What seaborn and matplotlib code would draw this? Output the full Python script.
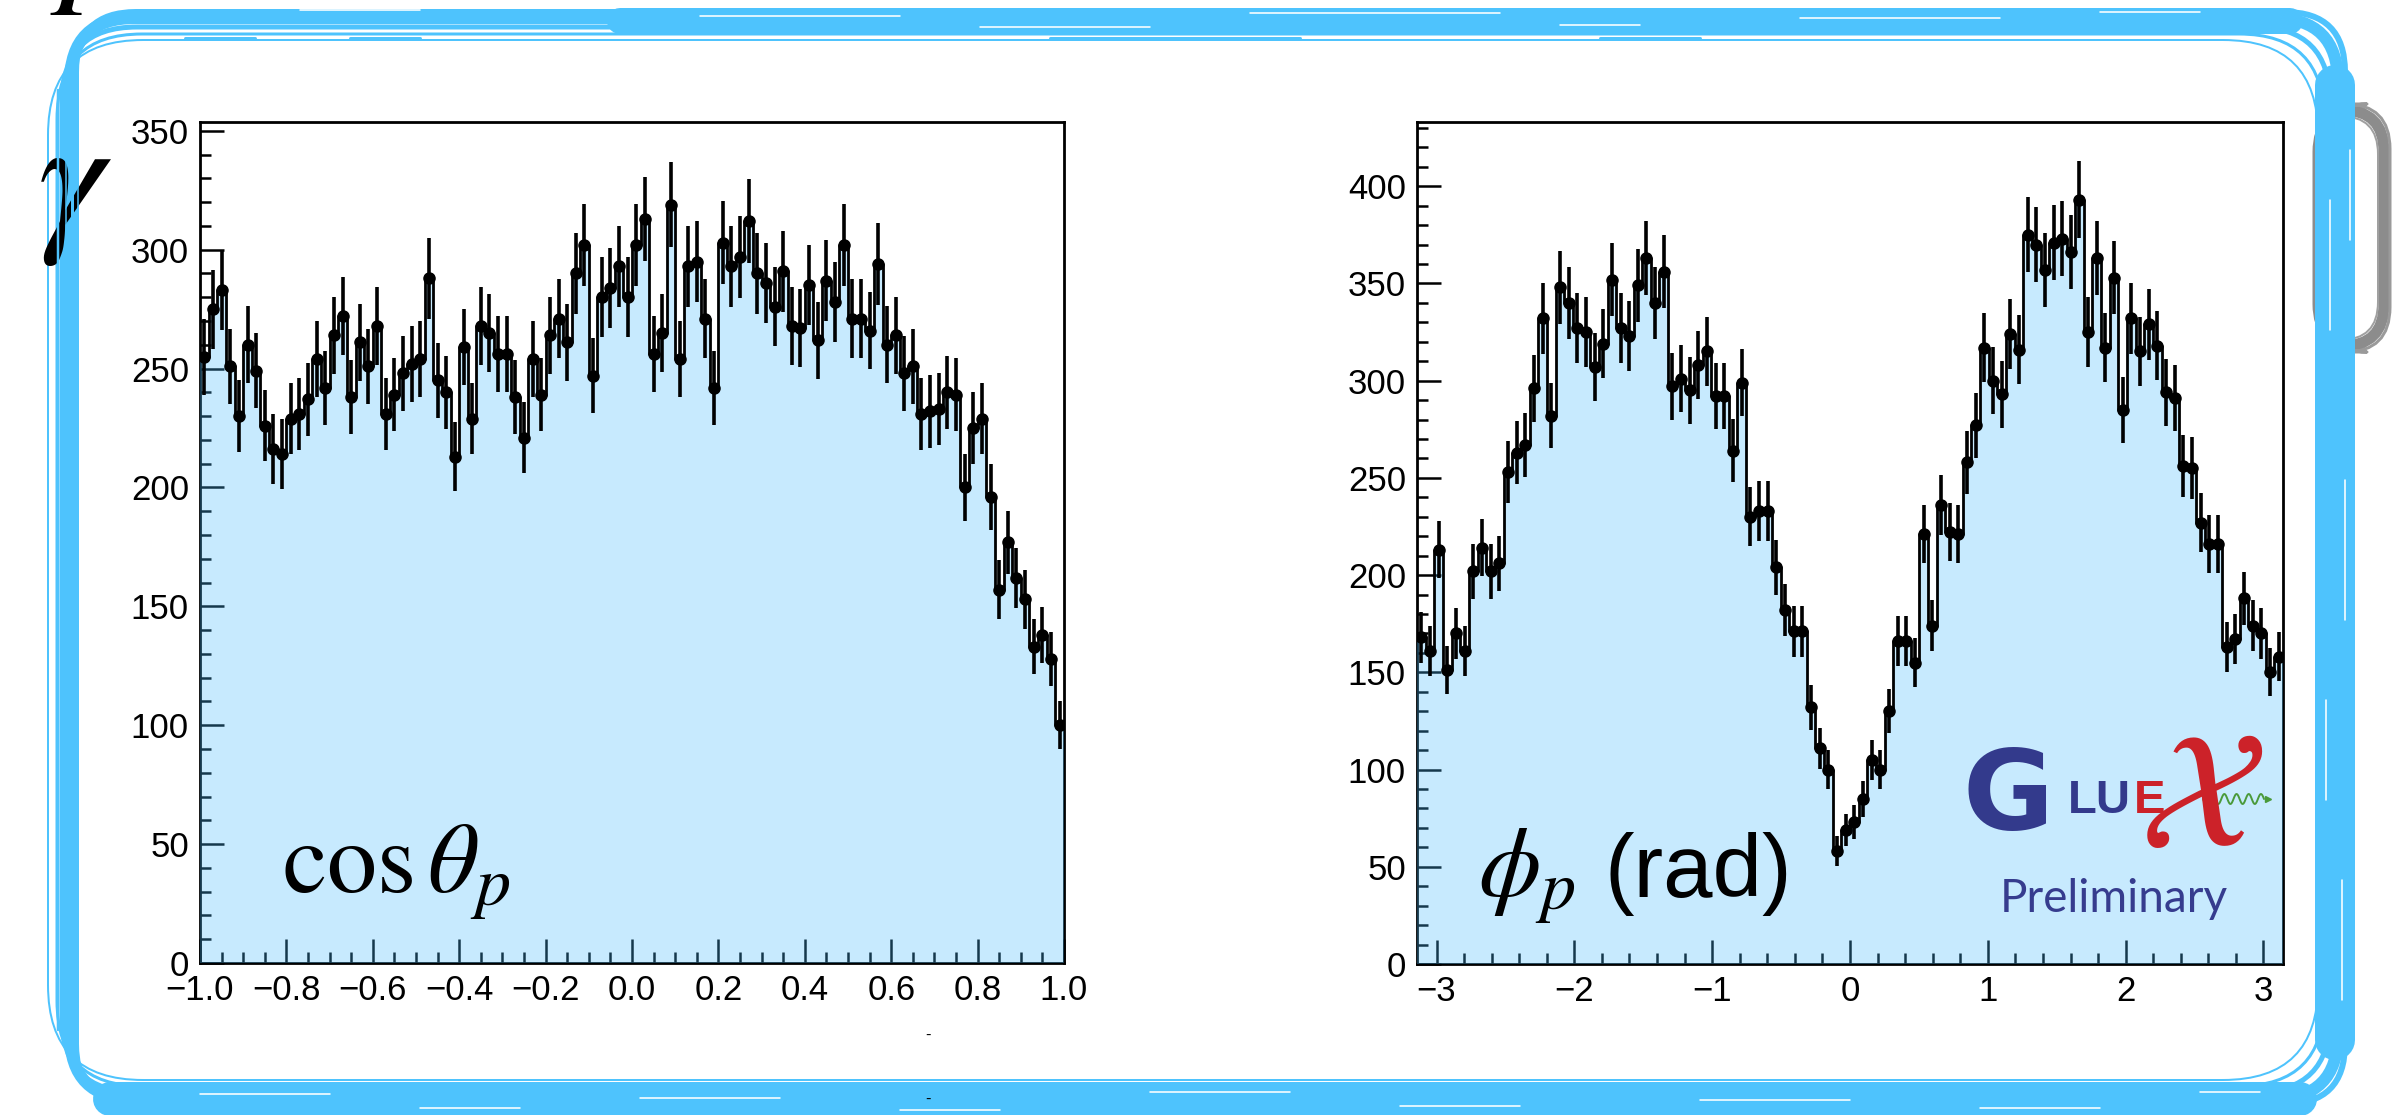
import numpy as np
import pandas as pd
import matplotlib
matplotlib.use("Agg")
import matplotlib.pyplot as plt
import seaborn as sns
from matplotlib.ticker import MultipleLocator, FuncFormatter
from matplotlib.patches import FancyBboxPatch

# ---- binned yields (100 bins each) ----
cos_edges = np.linspace(-1.0, 1.0, 101)
cos_counts = [255, 275, 283, 251, 230, 260, 249, 226, 216, 214,
              229, 231, 237, 254, 242, 264, 272, 238, 261, 251,
              268, 231, 239, 248, 252, 254, 288, 245, 240, 213,
              259, 229, 268, 265, 256, 256, 238, 221, 254, 239,
              264, 271, 261, 290, 302, 247, 280, 284, 293, 280,
              302, 313, 256, 265, 319, 254, 293, 295, 271, 242,
              303, 293, 297, 312, 290, 286, 276, 291, 268, 267,
              285, 262, 287, 278, 302, 271, 271, 266, 294, 260,
              264, 248, 251, 231, 232, 233, 240, 239, 200, 225,
              229, 196, 157, 177, 162, 153, 133, 138, 128, 100]

phi_edges = np.linspace(-np.pi, np.pi, 101)
phi_counts = [168, 161, 213, 151, 170, 161, 202, 214, 202, 206,
              253, 263, 267, 296, 332, 282, 348, 340, 327, 325,
              307, 319, 352, 327, 323, 349, 363, 340, 356, 297,
              301, 295, 308, 315, 292, 292, 264, 299, 230, 233,
              233, 204, 182, 171, 171, 132, 111, 100, 58, 69,
              73, 85, 105, 100, 130, 166, 166, 155, 221, 174,
              236, 222, 221, 258, 277, 317, 300, 293, 324, 316,
              375, 370, 357, 371, 373, 366, 393, 325, 363, 317,
              353, 285, 332, 315, 329, 318, 294, 291, 256, 255,
              227, 216, 216, 163, 167, 188, 174, 170, 150, 158]

cos_ticks = [-1.0, -0.8, -0.6, -0.4, -0.2, 0.0, 0.2, 0.4, 0.6, 0.8, 1.0]
phi_ticks = [-3, -2, -1, 0, 1, 2, 3]

W, H = 2394, 1115
FILL = (72 / 255, 188 / 255, 252 / 255)
FRAME_BLUE = "#4ec3fd"

sns.set_style("ticks")
plt.rcParams.update({
    "font.family": ["Liberation Sans", "DejaVu Sans"],
    "mathtext.fontset": "stix",
    "axes.linewidth": 2.0,
    "axes.edgecolor": "black",
    "xtick.direction": "in",
    "ytick.direction": "in",
    "xtick.color": "black",
    "ytick.color": "black",
})

fig = plt.figure(figsize=(W / 100, H / 100), dpi=100)
fig.patch.set_facecolor("white")


def px_rect(x0, y0, x1, y1):
    return [x0 / W, 1 - y1 / H, (x1 - x0) / W, (y1 - y0) / H]


def minus(s):
    return s.replace("-", "\u2212")


def draw_hist(ax, edges, counts, ymax, xlim):
    counts = np.asarray(counts, dtype=float)
    centers = 0.5 * (edges[:-1] + edges[1:])
    df = pd.DataFrame({"x": centers, "n": counts})
    bin_list = [float(e) for e in edges]
    sns.histplot(data=df, x="x", weights="n", bins=bin_list, element="step",
                 fill=True, color=FILL, alpha=0.3, linewidth=0, zorder=3, ax=ax)
    sns.histplot(data=df, x="x", weights="n", bins=bin_list, element="step",
                 fill=False, color="black", linewidth=2.0, zorder=4, ax=ax)
    ax.errorbar(centers, counts, yerr=np.sqrt(counts), fmt="o", ms=8,
                color="black", ecolor="black", elinewidth=2.6, capsize=0,
                zorder=5)
    ax.set_xlim(*xlim)
    ax.set_ylim(0, ymax)
    ax.set_xlabel("")
    ax.set_ylabel("")
    ax.set_facecolor("white")
    ax.set_axisbelow(True)
    for sp in ax.spines.values():
        sp.set_visible(True)
        sp.set_linewidth(2.0)
        sp.set_color("black")
    ax.yaxis.set_major_locator(MultipleLocator(50))
    ax.yaxis.set_minor_locator(MultipleLocator(10))
    ax.tick_params(which="major", length=17, width=1.8, labelsize=25, pad=8,
                   top=False, right=False)
    ax.tick_params(which="minor", length=8, width=1.8, top=False, right=False)
    ax.yaxis.set_major_formatter(FuncFormatter(lambda v, _: f"{v:.0f}"))


# left panel: cos(theta_p)
axL = fig.add_axes(px_rect(200, 122, 1064, 963))
draw_hist(axL, cos_edges, cos_counts, 353.7, (-1.0, 1.0))
axL.set_xticks(cos_ticks)
axL.xaxis.set_minor_locator(MultipleLocator(0.05))
axL.xaxis.set_major_formatter(FuncFormatter(lambda v, _: minus(f"{v + 0.0:.1f}")))

# right panel: phi_p
axR = fig.add_axes(px_rect(1417, 122, 2283, 964))
draw_hist(axR, phi_edges, phi_counts, 433.0, (-np.pi, np.pi))
axR.set_xticks(phi_ticks)
axR.xaxis.set_minor_locator(MultipleLocator(0.2))
axR.xaxis.set_major_formatter(FuncFormatter(lambda v, _: minus(f"{v:.0f}")))


def ftext(x, y, s, **kw):
    return fig.text(x / W, 1 - y / H, s, **kw)


# panel titles
ftext(282, 893, r"$\mathrm{cos}\,\theta_p$", fontsize=72, va="baseline",
      ha="left", color="black")
ftext(1478, 897, r"$\phi_p$", fontsize=72, va="baseline", ha="left",
      color="black")
ftext(1604, 897, "(rad)", fontsize=64, va="baseline", ha="left",
      color="black")

# GlueX logo
LOGO_BLUE = "#333a8c"
LOGO_RED = "#cc2229"
ftext(1962, 829, "G", fontsize=80, fontweight="bold", family="DejaVu Sans",
      color=LOGO_BLUE, va="baseline", ha="left")
ftext(2068, 813, "LU", fontsize=34, fontweight="bold", color=LOGO_BLUE,
      va="baseline", ha="left")
ftext(2134, 813, "E", fontsize=34, fontweight="bold", color=LOGO_RED,
      va="baseline", ha="left")
ftext(2202, 804, r"$\mathcal{X}$", fontsize=118, color=LOGO_RED,
      va="center", ha="center")
ftext(2000, 912, "Preliminary", fontsize=33, family=["Lato", "DejaVu Sans"],
      color="#363c8e", va="baseline", ha="left")

# overlay in pixel coordinates for the decorative frame
ov = fig.add_axes([0, 0, 1, 1])
ov.set_xlim(0, W)
ov.set_ylim(H, 0)
ov.axis("off")
ov.patch.set_alpha(0)

# wavy photon line of the logo
wx = np.linspace(2203, 2264, 120)
wy = 799 + 5 * np.sin((wx - 2203) / 61 * 2 * np.pi * 5)
ov.plot(wx, wy, color="#4a9a3a", lw=1.4, zorder=6)
ov.plot([2268], [799], marker=">", color="#4a9a3a", ms=5, zorder=6)

# large symbols partly outside / under the frame
ov.text(37, 112, r"$\gamma$", fontsize=120, va="top", ha="left",
        color="black", zorder=3.5)
ov.text(-45, 16, r"$\gamma$", fontsize=110, va="bottom", ha="left",
        color="black", zorder=2)
ov.text(50, 17, r"$p$", fontsize=110, va="bottom", ha="left",
        color="black", zorder=2)

PT = 0.72  # points per pixel at 100 dpi


def rrect(x0, y0, x1, y1, r, lw, color, z=3):
    ov.add_patch(FancyBboxPatch((x0, y0), x1 - x0, y1 - y0,
                                boxstyle=f"round,pad=0,rounding_size={r}",
                                fill=False, ec=color, lw=lw * PT, zorder=z,
                                joinstyle="round"))


# grey bracket tucked behind the right edge
rrect(2318, 110, 2384, 346, 42, 11, "#8c8c8c", z=1)
rrect(2322, 104, 2390, 352, 45, 3, "#9a9a9a", z=1)
rrect(2316, 116, 2378, 340, 38, 2, "#a0a0a0", z=1)

# sketched blue border
rrect(70, 18, 2338, 1099, 65, 12, FRAME_BLUE)
rrect(62, 27, 2330, 1092, 75, 5, FRAME_BLUE)
rrect(76, 12, 2345, 1104, 60, 6, FRAME_BLUE)
rrect(57, 34, 2324, 1086, 85, 3, FRAME_BLUE)
rrect(48, 40, 2318, 1080, 95, 2, FRAME_BLUE)

# thin passes crossing the gamma on the left edge
for x, lw in [(58, 2.5), (66, 1.5), (72, 3.0), (78, 1.5)]:
    ov.plot([x, x], [90, 1030], color=FRAME_BLUE, lw=lw * PT, zorder=4)

# thicker brush passes
ov.plot([2335, 2335], [85, 1040], color=FRAME_BLUE, lw=40 * PT,
        solid_capstyle="round", zorder=3)
ov.plot([620, 2290], [21, 21], color=FRAME_BLUE, lw=26 * PT,
        solid_capstyle="round", zorder=3)
ov.plot([190, 620], [14, 14], color=FRAME_BLUE, lw=10 * PT,
        solid_capstyle="round", zorder=3)
ov.plot([110, 2300], [1099, 1099], color=FRAME_BLUE, lw=34 * PT,
        solid_capstyle="round", zorder=3)
for (xa, xb) in [(185, 255), (350, 420), (1050, 1300), (1600, 1700)]:
    ov.plot([xa, xb], [38, 38], color=FRAME_BLUE, lw=3 * PT, zorder=3)

# dry-brush streaks
streaks_h = [(300, 420, 10), (700, 900, 16), (980, 1150, 27), (1250, 1500, 13),
             (1560, 1640, 25), (1800, 2000, 18), (2100, 2200, 12),
             (200, 330, 1094), (420, 520, 1108), (640, 780, 1098),
             (900, 1000, 1110), (1150, 1290, 1092), (1400, 1520, 1106),
             (1700, 1850, 1100), (1980, 2100, 1108), (2200, 2260, 1092)]
for xa, xb, y in streaks_h:
    ov.plot([xa, xb], [y, y], color="white", lw=1.6 * PT, zorder=4)
streaks_v = [(2330, 200, 330), (2345, 480, 620), (2326, 700, 800),
             (2342, 880, 1000), (2350, 150, 240)]
for x, ya, yb in streaks_v:
    ov.plot([x, x], [ya, yb], color="white", lw=1.6 * PT, zorder=4)

# small marks below the left panel
ftext(928, 1040, "-", fontsize=12, ha="center", va="baseline", color="black")
ftext(928, 1104, "-", fontsize=12, ha="center", va="baseline", color="black")

fig.savefig("out.png", dpi=100, facecolor="white")
